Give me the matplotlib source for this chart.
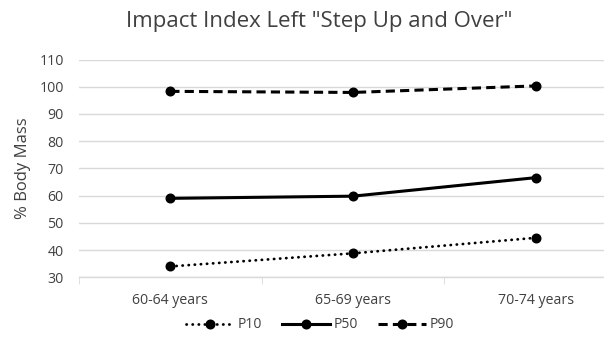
import matplotlib
matplotlib.use("Agg")
import matplotlib.pyplot as plt

categories = ["60-64 years", "65-69 years", "70-74 years"]
p10 = [34.0, 38.8, 44.5]
p50 = [59.0, 59.8, 66.6]
p90 = [98.3, 97.9, 100.3]
yticks = [30, 40, 50, 60, 70, 80, 90, 100, 110]

plt.rcParams['font.family'] = ['Open Sans', 'DejaVu Sans']

fig = plt.figure(figsize=(6.04, 3.42), dpi=100)
W, H = 604, 342
left, right = 79, 627
top, bottom = 59.5, 277.3
ax = fig.add_axes([left / W, (H - bottom) / H, (right - left) / W, (bottom - top) / H])

x = list(range(len(categories)))
ax.plot(x, p10, color='black', lw=2.0, linestyle=(0, (0.1, 2.1)), dash_capstyle='round',
        marker='o', ms=6.2, label='P10')
ax.plot(x, p50, color='black', lw=2.2, linestyle='-', marker='o', ms=6.2, label='P50')
ax.plot(x, p90, color='black', lw=2.2, linestyle=(0, (3, 1.7)), marker='o', ms=6.2, label='P90')

ax.set_xlim(-0.5, 2.5)
ax.set_ylim(30, 110)
ax.set_yticks(yticks)
ax.set_xticks(x)
ax.set_xticklabels(categories)
ax.set_xticks([-0.5, 0.5, 1.5, 2.5], minor=True)
ax.tick_params(axis='x', which='major', length=0, pad=11, labelsize=10.2, labelcolor='#404040')
ax.tick_params(axis='x', which='minor', length=5, color='#d9d9d9', direction='out')
ax.tick_params(axis='y', length=0, pad=11, labelsize=10.2, labelcolor='#404040')
ax.grid(axis='y', color='#d9d9d9', lw=1)
ax.set_axisbelow(True)
for s in ['left', 'right', 'top']:
    ax.spines[s].set_visible(False)
ax.spines['bottom'].set_color('#d9d9d9')
ax.spines['bottom'].set_linewidth(1)

fig.text(23 / W, 1 - 168 / H, '% Body Mass', rotation=90, ha='center', va='center',
         fontsize=12, color='#404040')
fig.text(319 / W, 1 - 22 / H, 'Impact Index Left "Step Up and Over"', ha='center', va='center',
         fontsize=16, color='#404040')

leg = fig.legend(loc='center', bbox_to_anchor=(320 / W, 1 - 325 / H), ncol=3, frameon=False,
                 fontsize=10, handlelength=3.5, columnspacing=1.4, handletextpad=0.25)
for t in leg.get_texts():
    t.set_color('#404040')

fig.savefig('out.png', dpi=100)
